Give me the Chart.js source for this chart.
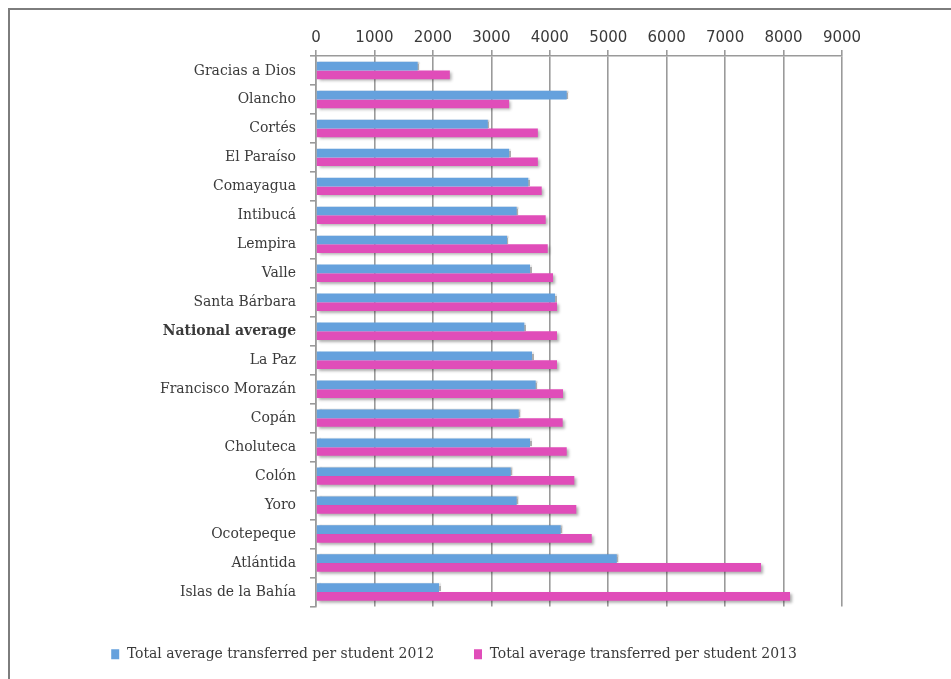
<!DOCTYPE html>
<html>
<head>
<meta charset="utf-8">
<script src="https://cdn.jsdelivr.net/npm/chart.js@4/dist/chart.umd.min.js"></script>
<style>
  html, body { margin: 0; padding: 0; background: #ffffff; }
  #wrap { position: relative; width: 951px; height: 679px; overflow: hidden; }
  #frame { position: absolute; left: 8px; top: 8px; width: 1200px; height: 1200px;
           border-left: 2px solid #7d7d7d; border-top: 2px solid #7d7d7d; }
  #chart { position: absolute; left: 0; top: 0; }
</style>
</head>
<body>
<div id="wrap">
  <div id="frame"></div>
  <canvas id="chart" width="951" height="679"></canvas>
</div>
<script>
// Departments of Honduras, plus the national average
const departments = [
  'Gracias a Dios', 'Olancho', 'Cortés', 'El Paraíso', 'Comayagua', 'Intibucá',
  'Lempira', 'Valle', 'Santa Bárbara', 'National average', 'La Paz',
  'Francisco Morazán', 'Copán', 'Choluteca', 'Colón', 'Yoro', 'Ocotepeque',
  'Atlántida', 'Islas de la Bahía'
];

// Total average transferred per student (Lempiras)
const perStudent2012 = [
  1740, 4290, 2940, 3305, 3633, 3434, 3268, 3662, 4090, 3565,
  3696, 3759, 3469, 3662, 3332, 3434, 4187, 5147, 2105
];
const perStudent2013 = [
  2290, 3305, 3796, 3796, 3862, 3930, 3965, 4055, 4124, 4124,
  4124, 4227, 4221, 4290, 4420, 4454, 4718, 7615, 8111
];

const seriesNames = [
  'Total average transferred per student 2012',
  'Total average transferred per student 2013'
];

const xTicks = [0, 1000, 2000, 3000, 4000, 5000, 6000, 7000, 8000, 9000];

const BLUE = '#65a1dd';
const PINK = '#e04db9';
const GRID = '#9a9a9a';
const TEXT = '#3a3a3a';
const SERIF = "'DejaVu Serif Condensed', 'DejaVu Serif', serif";

// Soft drop shadow under the bars; the upper bar of each pair casts
// its shadow sideways only, so it does not darken the bar below it
const barShadow = {
  id: 'barShadow',
  beforeDatasetDraw(chart, args) {
    const ctx = chart.ctx;
    ctx.save();
    ctx.shadowColor = 'rgba(0,0,0,0.32)';
    ctx.shadowBlur = args.index === 0 ? 1.5 : 3;
    ctx.shadowOffsetX = 2;
    ctx.shadowOffsetY = args.index === 0 ? 0 : 2;
  },
  afterDatasetDraw(chart) {
    chart.ctx.restore();
  }
};

new Chart(document.getElementById('chart'), {
  type: 'bar',
  data: {
    labels: departments,
    datasets: [
      { label: seriesNames[0], data: perStudent2012, backgroundColor: BLUE },
      { label: seriesNames[1], data: perStudent2013, backgroundColor: PINK }
    ]
  },
  options: {
    indexAxis: 'y',
    responsive: false,
    animation: false,
    categoryPercentage: 0.6,
    barPercentage: 1.0,
    layout: { padding: { left: 66, right: 109, top: 26, bottom: 7 } },
    scales: {
      x: {
        position: 'top',
        min: 0,
        max: 9000,
        afterBuildTicks(scale) {
          scale.ticks = xTicks.map(v => ({ value: v }));
        },
        grid: { color: GRID, lineWidth: 1.6, tickLength: 6, drawTicks: true },
        border: { color: GRID, width: 1.6 },
        ticks: {
          color: TEXT,
          padding: 3,
          callback: v => String(v),
          font: { family: "'DejaVu Sans', sans-serif", size: 15 }
        }
      },
      y: {
        afterFit(scale) { scale.width = 250; },
        grid: { drawOnChartArea: false, color: GRID, lineWidth: 1.6, tickLength: 6 },
        border: { color: GRID, width: 1.6 },
        ticks: {
          color: TEXT,
          padding: 14,
          font(ctx) {
            const bold = departments[ctx.index] === 'National average';
            return { family: SERIF, size: 15.5, weight: bold ? 'bold' : 'normal' };
          }
        }
      }
    },
    plugins: {
      tooltip: { enabled: false },
      legend: {
        position: 'bottom',
        labels: {
          color: TEXT,
          boxWidth: 8,
          boxHeight: 10,
          padding: 40,
          font: { family: SERIF, size: 15.5 }
        }
      }
    }
  },
  plugins: [barShadow]
});
</script>
</body>
</html>
